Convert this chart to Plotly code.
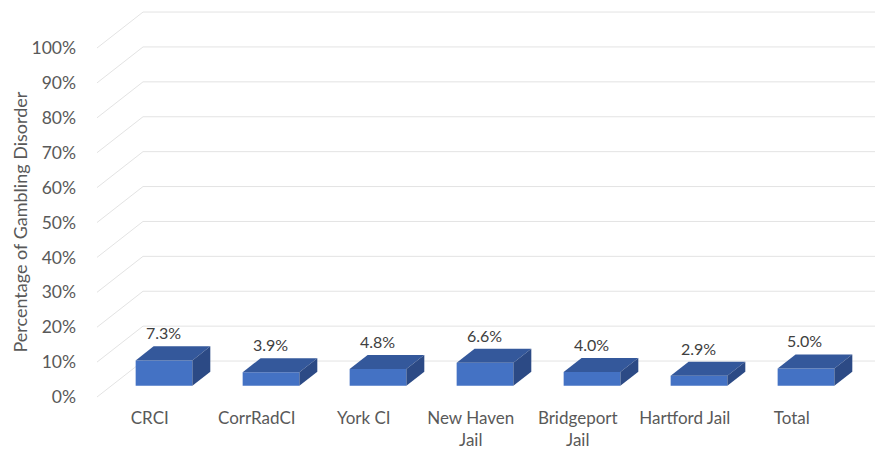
import plotly.graph_objects as go

categories = ["CRCI", "CorrRadCI", "York CI", "New Haven<br>Jail", "Bridgeport<br>Jail", "Hartford Jail", "Total"]
values = [7.3, 3.9, 4.8, 6.6, 4.0, 2.9, 5.0]
value_labels = ["7.3%", "3.9%", "4.8%", "6.6%", "4.0%", "2.9%", "5.0%"]
tick_values = [0, 10, 20, 30, 40, 50, 60, 70, 80, 90, 100]
tick_labels = ["0%", "10%", "20%", "30%", "40%", "50%", "60%", "70%", "80%", "90%", "100%"]

# 3D projection parameters (data units)
DX = 0.43      # total depth, x units
DY = 10.3      # total depth, y units
F0, F1 = 0.31, 0.70   # bar front / back depth fractions
W = 0.53       # bar width
X0, X1 = -0.493, 6.853
K = 3.49       # px per y unit
Y0 = -7 / K
Y1 = (389 - 1) / K

FRONT = "#4472C4"
TOP = "#34589B"
SIDE = "#2C4A85"
GRID = "#E3E3E3"
TXT = "#595959"
FONT = "Lato"

fig = go.Figure()

# grid (back wall + left diagonal)
shapes = []
for v in tick_values:
    shapes.append(dict(type="line", xref="x", yref="y", x0=X0, y0=v, x1=X0 + DX, y1=v + DY,
                       line=dict(color=GRID, width=1), layer="below"))
    shapes.append(dict(type="line", xref="x", yref="y", x0=X0 + DX, y0=v + DY, x1=X1, y1=v + DY,
                       line=dict(color=GRID, width=1), layer="below"))

xs = list(range(len(categories)))
fx = [i + F0 * DX for i in xs]
base = F0 * DY
bx = (F1 - F0) * DX
by = (F1 - F0) * DY

fig.add_trace(go.Bar(x=fx, y=values, base=base, width=W,
                     marker=dict(color=FRONT, line=dict(width=0)), hoverinfo="skip"))

for c, v in zip(fx, values):
    xl, xr = c - W / 2, c + W / 2
    top = base + v
    fig.add_trace(go.Scatter(x=[xl, xr, xr + bx, xl + bx, xl], y=[top, top, top + by, top + by, top],
                             fill="toself", fillcolor=TOP, mode="lines", line=dict(width=0, color=TOP),
                             hoverinfo="skip"))
    fig.add_trace(go.Scatter(x=[xr, xr + bx, xr + bx, xr, xr], y=[base, base + by, top + by, top, base],
                             fill="toself", fillcolor=SIDE, mode="lines", line=dict(width=0, color=SIDE),
                             hoverinfo="skip"))

annotations = []
for c, v, t in zip(fx, values, value_labels):
    annotations.append(dict(x=c, y=v + F1 * DY, xref="x", yref="y", text=t, showarrow=False,
                            yanchor="bottom", yshift=2, xshift=-1,
                            font=dict(family=FONT, size=16, color="#404040")))
annotations.append(dict(xref="paper", yref="y", x=0, y=50, xshift=-78, xanchor="center", yanchor="middle",
                        text="Percentage of Gambling Disorder",
                        textangle=-90, showarrow=False, font=dict(family=FONT, size=18, color=TXT)))

fig.update_layout(
    width=875, height=444,
    margin=dict(l=89, r=0, t=1, b=48),
    paper_bgcolor="white", plot_bgcolor="white",
    showlegend=False,
    shapes=shapes, annotations=annotations,
    xaxis=dict(range=[X0, X1], tickvals=xs, ticktext=categories, showgrid=False, zeroline=False,
               showline=False, ticks="", ticklabelstandoff=2, automargin=False,
               tickfont=dict(family=FONT, size=17, color=TXT)),
    yaxis=dict(range=[Y0, Y1], tickvals=tick_values, ticktext=tick_labels, showgrid=False, zeroline=False,
               showline=False, ticks="", ticklabelstandoff=20, automargin=False,
               tickfont=dict(family=FONT, size=17.5, color=TXT)),
)

fig.write_html("out.html")
